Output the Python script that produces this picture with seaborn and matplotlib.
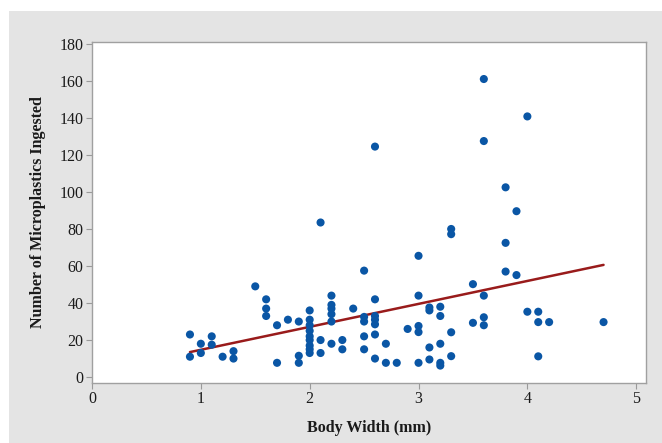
import matplotlib
matplotlib.use("Agg")
import matplotlib.pyplot as plt
import matplotlib.patches as mpatches
import seaborn as sns
import pandas as pd

# Body width (mm) and number of microplastics ingested
body_width = [
    0.9, 0.9,
    1.0, 1.0,
    1.1, 1.1,
    1.2,
    1.3, 1.3,
    1.5,
    1.6, 1.6, 1.6,
    1.7, 1.7,
    1.8,
    1.9, 1.9, 1.9,
    2.0, 2.0, 2.0, 2.0, 2.0, 2.0, 2.0, 2.0, 2.0,
    2.1, 2.1, 2.1,
    2.2, 2.2, 2.2, 2.2, 2.2, 2.2,
    2.3, 2.3,
    2.4,
    2.5, 2.5, 2.5, 2.5, 2.5,
    2.6, 2.6, 2.6, 2.6, 2.6, 2.6, 2.6,
    2.7, 2.7,
    2.8,
    2.9,
    3.0, 3.0, 3.0, 3.0, 3.0,
    3.1, 3.1, 3.1, 3.1,
    3.2, 3.2, 3.2, 3.2, 3.2,
    3.3, 3.3, 3.3, 3.3,
    3.5, 3.5,
    3.6, 3.6, 3.6, 3.6, 3.6,
    3.8, 3.8, 3.8,
    3.9, 3.9,
    4.0, 4.0,
    4.1, 4.1, 4.1,
    4.2,
    4.7,
]
microplastics = [
    23, 11,
    18, 13,
    22, 17.5,
    11,
    14, 10,
    49,
    42, 37, 33,
    28, 7.7,
    31,
    30, 11.5, 7.7,
    36, 31, 28, 25, 22, 20, 17, 15, 13,
    83.5, 20, 13,
    44, 39, 37, 34, 30, 18,
    20, 15,
    37,
    57.5, 32.5, 30, 22, 15,
    124.5, 42, 33, 31, 28.5, 23, 10,
    18, 7.7,
    7.7,
    26,
    65.5, 44, 27.6, 24.3, 7.7,
    37.6, 36, 16, 9.5,
    38, 33, 18, 7.7, 6.2,
    80, 77.2, 24.2, 11.3,
    50.2, 29.3,
    161, 127.5, 44, 32.3, 28,
    102.5, 72.5, 57,
    89.6, 55.1,
    140.8, 35.3,
    35.3, 29.7, 11.2,
    29.7,
    29.7,
]

# Fitted trend line
fit_x = [0.9, 4.7]
fit_y = [13.5, 60.6]

x_ticks = [0, 1, 2, 3, 4, 5]
y_ticks = [0, 20, 40, 60, 80, 100, 120, 140, 160, 180]

df = pd.DataFrame({"Body Width (mm)": body_width,
                   "Number of Microplastics Ingested": microplastics})
fit_df = pd.DataFrame({"x": fit_x, "y": fit_y})

sns.set_style("white")
plt.rcParams["font.family"] = ["Liberation Serif", "DejaVu Serif"]

fig = plt.figure(figsize=(6.62, 4.43), dpi=100)
fig.patch.set_facecolor("white")
bg = mpatches.Rectangle((9 / 662, 0), 1 - 9 / 662, 1 - 11 / 443,
                        transform=fig.transFigure, facecolor="#e4e4e4",
                        edgecolor="none", zorder=-10)
fig.patches.append(bg)

ax = fig.add_axes([92 / 662, 1 - 383 / 443, (646 - 92) / 662, (383 - 42) / 443])
ax.set_facecolor("white")

sns.scatterplot(data=df, x="Body Width (mm)", y="Number of Microplastics Ingested",
                ax=ax, color="#0a56a5", s=34, edgecolor="none", linewidth=0,
                zorder=3)
sns.lineplot(data=fit_df, x="x", y="y", ax=ax, color="#991b1b", linewidth=1.8,
             zorder=2)

ax.set_xlim(0, 5.09)
ax.set_ylim(-3.2, 181)
ax.set_xticks(x_ticks)
ax.set_yticks(y_ticks)
ax.tick_params(axis="both", which="major", direction="out", length=4, width=0.8,
               color="#9a9a9a", labelsize=11.5, labelcolor="#1a1a1a", pad=2,
               bottom=True, left=True)
for sp in ax.spines.values():
    sp.set_color("#a0a0a0")
    sp.set_linewidth(1.0)

ax.set_xlabel("Body Width (mm)", fontsize=11.5, fontweight="bold", color="#1a1a1a",
              labelpad=9)
ax.set_ylabel("Number of Microplastics Ingested", fontsize=11.5, fontweight="bold",
              color="#1a1a1a", labelpad=10)

fig.savefig("out.png", dpi=100)
